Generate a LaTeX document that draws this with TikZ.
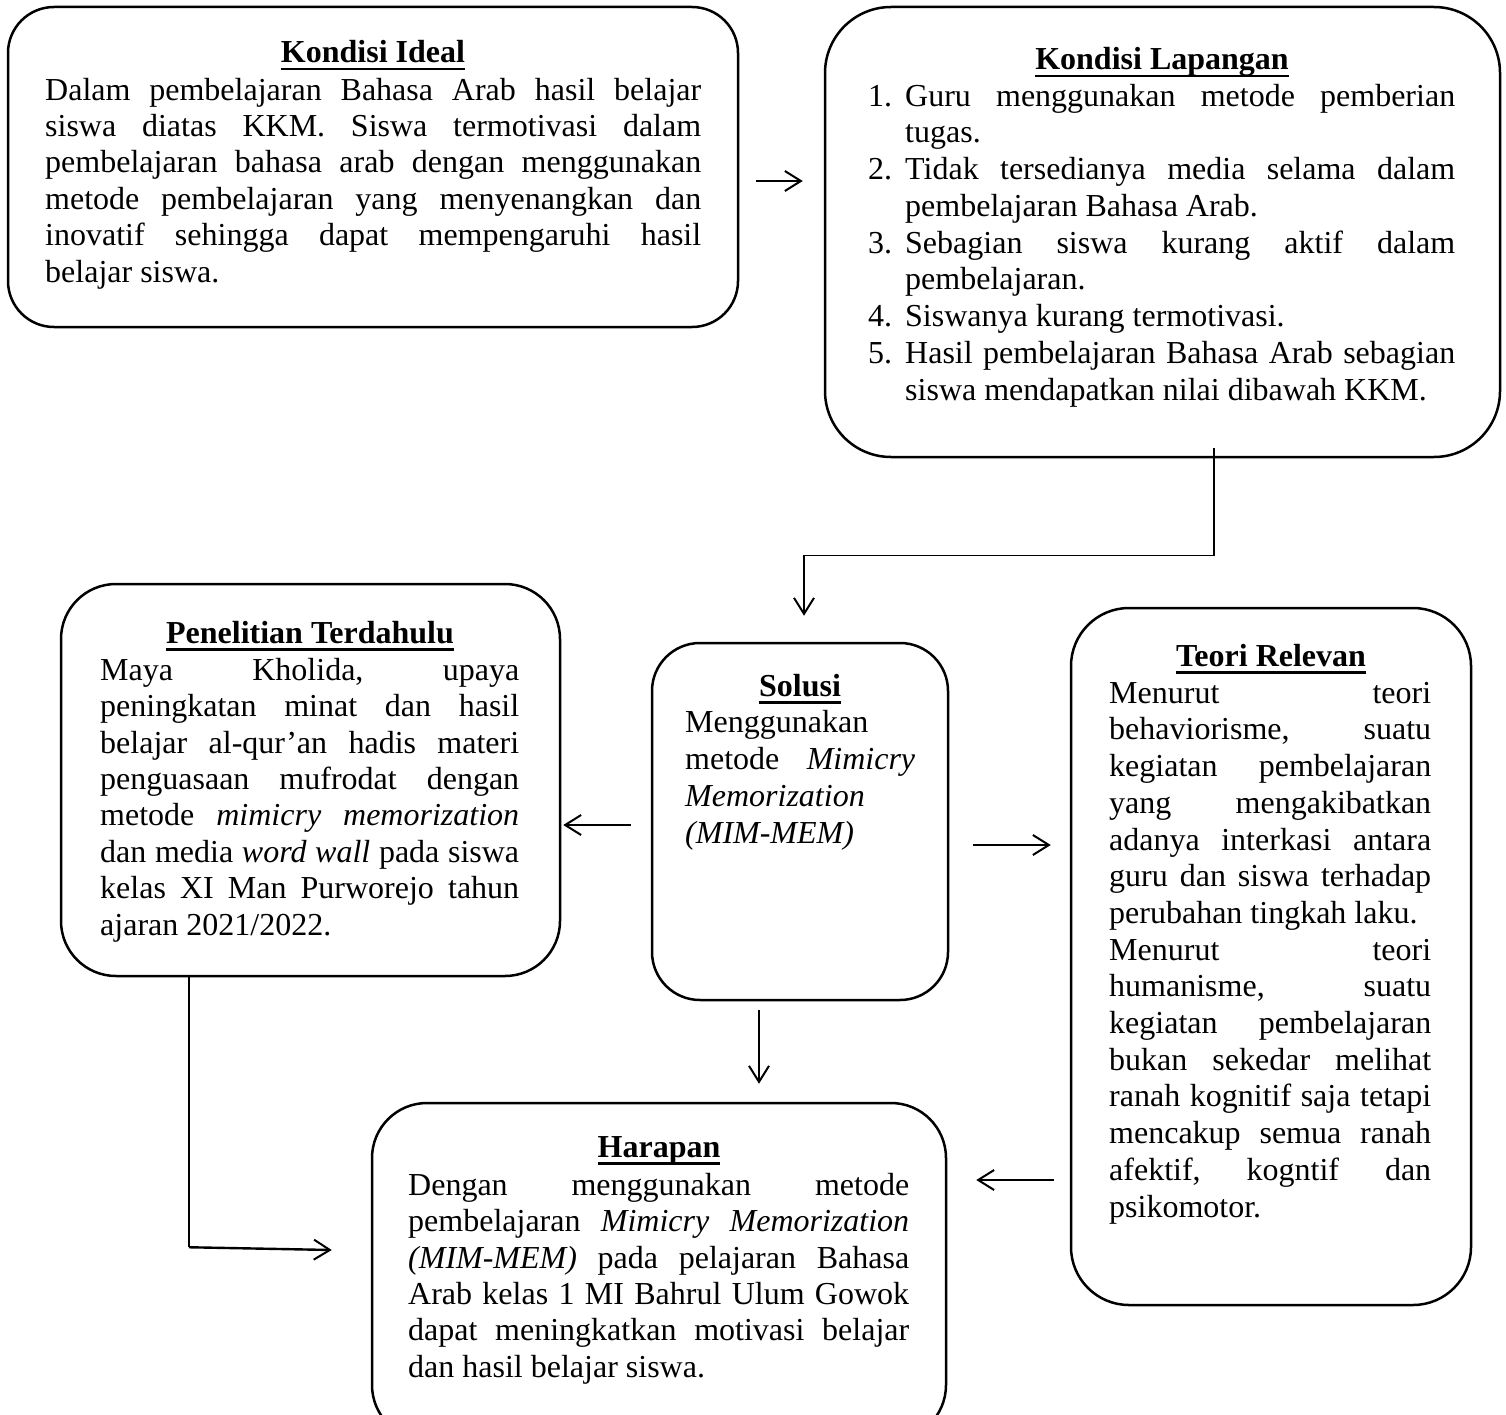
\documentclass[tikz,border=0pt]{standalone}
\usepackage{fontspec}
\setmainfont{Liberation Serif}
\usetikzlibrary{arrows.meta,calc}
\newcommand\jl[2]{\hbox to #1pt{#2}}
\newsavebox\ttlbox
\newcommand\ttl[1]{\sbox\ttlbox{\bfseries #1}\rlap{\rule[-7.5pt]{\wd\ttlbox}{2.8pt}}\usebox\ttlbox}
\newcommand\fs[1]{\fontsize{32}{#1}\selectfont\frenchspacing}
\newcommand\st{\rule{0pt}{26pt}}
\newcommand\num[1]{\makebox[37pt][l]{#1}}
\begin{document}
\begin{tikzpicture}[x=1pt,y=-1pt,
  box/.style={draw, line width=2.5pt, inner sep=0pt},
  body/.style={anchor=north west, inner sep=0pt, align=left},
  title/.style={anchor=base, inner sep=0pt, font=\fs{36}},
  arr/.style={line width=2pt, -{Straight Barb[length=16pt,width=20pt,line width=2pt]}},
  thinl/.style={line width=1.3pt}]
\useasboundingbox (0,0) rectangle (1506,1415);
\clip (0,0) rectangle (1506,1415);

% boxes
\node[box, rounded corners=46pt, minimum width=730pt, minimum height=320pt] (ideal) at (373,167) {};
\node[box, rounded corners=66pt, minimum width=675pt, minimum height=450pt] (lap) at (1162.5,232) {};
\node[box, rounded corners=55pt, minimum width=499pt, minimum height=392pt] (pen) at (310.5,780) {};
\node[box, rounded corners=48pt, minimum width=296pt, minimum height=357pt] (sol) at (800,821.5) {};
\node[box, rounded corners=58pt, minimum width=400pt, minimum height=697pt] (teori) at (1271,956.5) {};
\node[box, rounded corners=55pt, minimum width=574pt, minimum height=337pt] (harapan) at (659,1271.5) {};

% titles
\node[title] (idealT) at (373,63) {\ttl{Kondisi Ideal}};
\node[title] (lapT) at (1162,70) {\ttl{Kondisi Lapangan}};
\node[title] (penT) at (310,643) {\ttl{Penelitian Terdahulu}};
\node[title] (solT) at (800,696) {\ttl{Solusi}};
\node[title] (teoriT) at (1271,666) {\ttl{Teori Relevan}};
\node[title] (harapanT) at (659,1157) {\ttl{Harapan}};

% bodies
\node[body, font=\fs{36.4}] (idealB) at (45,74) {\st\jl{656}{Dalam pembelajaran Bahasa Arab hasil belajar}\\
\jl{656}{siswa diatas KKM. Siswa termotivasi dalam}\\
\jl{656}{pembelajaran bahasa arab dengan menggunakan}\\
\jl{656}{metode pembelajaran yang menyenangkan dan}\\
\jl{656}{inovatif sehingga dapat mempengaruhi hasil}\\
belajar siswa.};

\node[body, font=\fs{36.75}] (lapB) at (868,80) {\st\num{1.}\jl{550}{Guru menggunakan metode pemberian}\\
\num{}tugas.\\
\num{2.}\jl{550}{Tidak tersedianya media selama dalam}\\
\num{}pembelajaran Bahasa Arab.\\
\num{3.}\jl{550}{Sebagian siswa kurang aktif dalam}\\
\num{}pembelajaran.\\
\num{4.}Siswanya kurang termotivasi.\\
\num{5.}\jl{550}{Hasil pembelajaran Bahasa Arab sebagian}\\
\num{}siswa mendapatkan nilai dibawah KKM.};

\node[body, font=\fs{36.4}] (penB) at (100,654) {\st\jl{419}{Maya Kholida, upaya}\\
\jl{419}{peningkatan minat dan hasil}\\
\jl{419}{belajar al-qur’an hadis materi}\\
\jl{419}{penguasaan mufrodat dengan}\\
\jl{419}{metode \textit{mimicry memorization}}\\
\jl{419}{dan media \textit{word wall} pada siswa}\\
\jl{419}{kelas XI Man Purworejo tahun}\\
ajaran 2021/2022.};

\node[body, font=\fs{37}] (solB) at (685,706) {\st Menggunakan\\
\jl{230}{metode \textit{Mimicry}}\\
\textit{Memorization}\\
\textit{(MIM-MEM)}};

\node[body, font=\fs{36.7}] (teoriB) at (1109,677) {\st\jl{322}{Menurut teori}\\
\jl{322}{behaviorisme, suatu}\\
\jl{322}{kegiatan pembelajaran}\\
\jl{322}{yang mengakibatkan}\\
\jl{322}{adanya interkasi antara}\\
\jl{322}{guru dan siswa terhadap}\\
perubahan tingkah laku.\\
\jl{322}{Menurut teori}\\
\jl{322}{humanisme, suatu}\\
\jl{322}{kegiatan pembelajaran}\\
\jl{322}{bukan sekedar melihat}\\
\jl{322}{ranah kognitif saja tetapi}\\
\jl{322}{mencakup semua ranah}\\
\jl{322}{afektif, kogntif dan}\\
psikomotor.};

\node[body, font=\fs{36.4}] (harapanB) at (408,1169) {\st\jl{501}{Dengan menggunakan metode}\\
\jl{501}{pembelajaran \textit{Mimicry Memorization}}\\
\jl{501}{\textit{(MIM-MEM)} pada pelajaran Bahasa}\\
\jl{501}{Arab kelas 1 MI Bahrul Ulum Gowok}\\
\jl{501}{dapat meningkatkan motivasi belajar}\\
dan hasil belajar siswa.};

% connectors
\draw[arr] ($(ideal.east)+(17,14)$) -- ($(lap.west)+(-21,-51)$);

\coordinate (lapOut) at ($(lap.south)+(51.5,-10)$);
\coordinate (solIn) at ($(sol.north)+(4,-26)$);
\coordinate (k1) at ($(lapOut)+(0,107)$);
\coordinate (k2) at (k1 -| solIn);
\draw[thinl] (lapOut) -- (k1) -- (k2);
\draw[arr] (k2) -- (solIn);

\draw[arr] ($(sol.west)+(-20,3.5)$) -- ($(pen.east)+(2,45)$);
\draw[arr] ($(sol.east)+(24,23.5)$) -- ($(teori.west)+(-19,-111.5)$);
\draw[arr] ($(sol.south)+(-41,9)$) -- ($(harapan.north)+(100,-18)$);
\draw[arr] ($(teori.west)+(-16,223.5)$) -- ($(harapan.east)+(29,-91.5)$);

\coordinate (penOut) at ($(pen.south)+(-121.5,0)$);
\coordinate (k3) at ($(pen.south)+(-121.5,270)$);
\draw[thinl] (penOut) -- (k3);
\draw[arr, line width=2.4pt] (k3) -- ($(harapan.west)+(-39,-21.5)$);
\end{tikzpicture}
\end{document}
